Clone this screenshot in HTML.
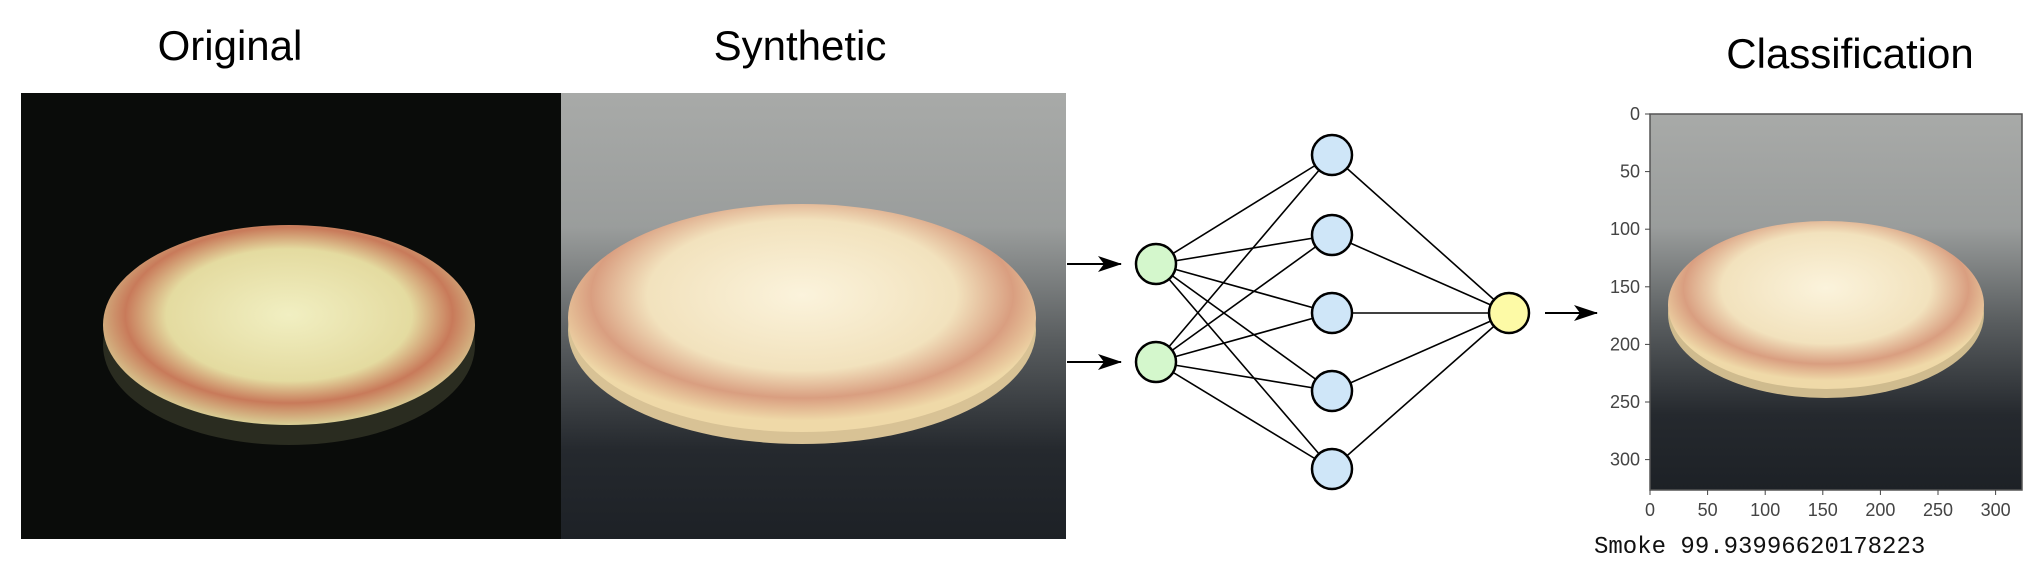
<!DOCTYPE html>
<html><head><meta charset="utf-8"><style>
html,body{margin:0;padding:0;background:#fff;width:2036px;height:586px;overflow:hidden}
svg{display:block}
</style></head><body>
<svg width="2036" height="586" viewBox="0 0 2036 586">
<defs>
<radialGradient id="pz1" cx="0.5" cy="0.45" r="0.55">
<stop offset="0" stop-color="#f1efc2"/><stop offset="0.6" stop-color="#e4dba0"/><stop offset="0.8" stop-color="#c87a5a"/><stop offset="1" stop-color="#d9cf95"/></radialGradient>
<radialGradient id="pz2" cx="0.5" cy="0.4" r="0.55">
<stop offset="0" stop-color="#fbf3dc"/><stop offset="0.6" stop-color="#f2e2bd"/><stop offset="0.82" stop-color="#d99e80"/><stop offset="1" stop-color="#efd9a8"/></radialGradient>
<linearGradient id="bg2" x1="0" y1="0" x2="0" y2="1">
<stop offset="0" stop-color="#a8aaa8"/><stop offset="0.3" stop-color="#9a9d9c"/><stop offset="0.55" stop-color="#5a5e60"/><stop offset="0.8" stop-color="#25292e"/><stop offset="1" stop-color="#1d2126"/></linearGradient>
<marker id="ah" markerWidth="24" markerHeight="16" refX="23" refY="8" orient="auto" markerUnits="userSpaceOnUse"><path d="M0,0 L24,8 L0,16 L6,8 z" fill="#000"/></marker>
</defs>

<text x="230" y="60" font-family="Liberation Sans, sans-serif" font-size="42" text-anchor="middle">Original</text>
<text x="800" y="60" font-family="Liberation Sans, sans-serif" font-size="42" text-anchor="middle">Synthetic</text>
<text x="1850" y="68" font-family="Liberation Sans, sans-serif" font-size="42" text-anchor="middle">Classification</text>

<g>
<rect x="21" y="93" width="540" height="446" fill="#0a0c0a"/>
<ellipse cx="289" cy="345" rx="186" ry="100" fill="#2a2c20"/>
<ellipse cx="289" cy="325" rx="186" ry="100" fill="url(#pz1)"/>
</g>
<g>
<rect x="561" y="93" width="505" height="446" fill="url(#bg2)"/>
<ellipse cx="802" cy="330" rx="234" ry="114" fill="#d8c295"/>
<ellipse cx="802" cy="318" rx="234" ry="114" fill="url(#pz2)"/>
</g>

<g stroke="#000" stroke-width="2">
<line x1="1067" y1="264" x2="1121" y2="264" marker-end="url(#ah)"/>
<line x1="1067" y1="362" x2="1121" y2="362" marker-end="url(#ah)"/>
<line x1="1545" y1="313" x2="1597" y2="313" marker-end="url(#ah)"/>
</g>
<g id="net"></g>

<g>
<rect x="1650" y="114" width="372" height="376" fill="url(#bg2)"/>
<ellipse cx="1826" cy="314" rx="158" ry="84" fill="#cfbb8e"/>
<ellipse cx="1826" cy="305" rx="158" ry="84" fill="url(#pz2)"/>
<rect x="1650" y="114" width="372" height="376" fill="none" stroke="#555" stroke-width="1.5"/>
<g id="ticks" font-family="Liberation Sans, sans-serif" font-size="18" fill="#444"></g>
</g>
<text x="1594" y="553" font-family="Liberation Mono, monospace" font-size="24" fill="#111">Smoke 99.93996620178223</text>
</svg>
<script>
const inputY=[264,362];
const hiddenY=[155,235,313,391,469];
const outputY=[313];
const tickVals=[0,50,100,150,200,250,300];
const ns='http://www.w3.org/2000/svg';
const net=document.getElementById('net');
const xi=1156,xh=1332,xo=1509,r=20;
function ln(a,b,c,d){const l=document.createElementNS(ns,'line');l.setAttribute('x1',a);l.setAttribute('y1',b);l.setAttribute('x2',c);l.setAttribute('y2',d);l.setAttribute('stroke','#000');l.setAttribute('stroke-width','1.6');


net.appendChild(l);}
inputY.forEach(a=>hiddenY.forEach(b=>ln(xi,a,xh,b)));
hiddenY.forEach(b=>outputY.forEach(c=>ln(xh,b,xo,c)));
function nd(x,y,f,n){const c=document.createElementNS(ns,'circle');c.setAttribute('cx',x);c.setAttribute('cy',y);c.setAttribute('r',r);c.setAttribute('fill',f);c.setAttribute('stroke','#000');c.setAttribute('stroke-width','2.5');


net.appendChild(c);}
inputY.forEach(y=>nd(xi,y,'#d4f7cc','input-node'));
hiddenY.forEach(y=>nd(xh,y,'#cfe6f8','hidden-node'));
outputY.forEach(y=>nd(xo,y,'#fdfaa6','output-node'));
const tg=document.getElementById('ticks');
const x0=1650,y0=114,k=1.152;
tickVals.forEach(v=>{
 const yt=document.createElementNS(ns,'text');yt.setAttribute('x',x0-10);yt.setAttribute('y',y0+v*k+6);yt.setAttribute('text-anchor','end');yt.textContent=v;
 
 
 tg.appendChild(yt);
 const xt=document.createElementNS(ns,'text');xt.setAttribute('x',x0+v*k);xt.setAttribute('y',516);xt.setAttribute('text-anchor','middle');xt.textContent=v;
 
 
 tg.appendChild(xt);
 const a=document.createElementNS(ns,'line');a.setAttribute('x1',x0-5);a.setAttribute('x2',x0);a.setAttribute('y1',y0+v*k);a.setAttribute('y2',y0+v*k);a.setAttribute('stroke','#444');
 
 
 tg.appendChild(a);
 const b=document.createElementNS(ns,'line');b.setAttribute('x1',x0+v*k);b.setAttribute('x2',x0+v*k);b.setAttribute('y1',490);b.setAttribute('y2',495);b.setAttribute('stroke','#444');
 
 
 tg.appendChild(b);
});
</script>
</body></html>
